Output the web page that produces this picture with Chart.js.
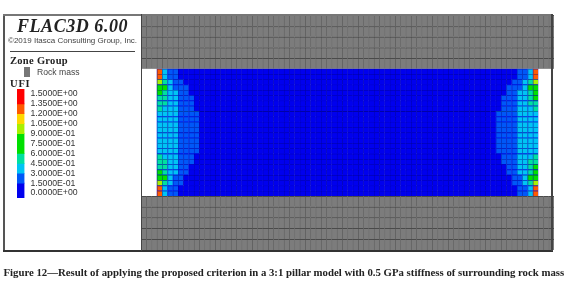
<!DOCTYPE html>
<html>
<head>
<meta charset="utf-8">
<script src="https://cdn.jsdelivr.net/npm/chart.js@4/dist/chart.umd.js"></script>
<style>
html,body{margin:0;padding:0;background:#fff;width:580px;height:282px;overflow:hidden}
#page{position:relative;width:580px;height:282px;filter:blur(.45px)}
.t{position:absolute;white-space:nowrap;color:#222;line-height:1}
.sans{font-family:"Liberation Sans",Arial,sans-serif}
.serif{font-family:"Liberation Serif","Times New Roman",serif}
.line{position:absolute}
canvas{position:absolute;display:block}
</style>
</head>
<body>
<div id="page">
  <canvas id="grid" style="left:141px;top:15px;width:413px;height:235px" width="413" height="235"></canvas>
  <canvas id="ramp" style="left:17px;top:89px;width:61px;height:109px" width="61" height="109"></canvas>

  <div class="line" style="left:3px;top:14px;width:2px;height:237px;background:#555"></div>
  <div class="line" style="left:3px;top:14px;width:550px;height:1.5px;background:#777"></div>
  <div class="line" style="left:3px;top:249.5px;width:550px;height:2px;background:#333"></div>
  <div class="line" style="left:140.5px;top:14px;width:1.5px;height:237px;background:#444"></div>
  <div class="line" style="left:551px;top:14px;width:2px;height:237px;background:#444"></div>
  <div class="line" style="left:10px;top:50.5px;width:125px;height:1px;background:#444"></div>
  <div class="line" style="left:24px;top:67px;width:6px;height:10px;background:#777"></div>

  <div class="t serif" style="left:17px;top:16.5px;font-size:18px;font-weight:bold;font-style:italic;letter-spacing:.55px">FLAC3D 6.00</div>
  <div class="t sans" style="left:8px;top:36.5px;font-size:8px;color:#444">©2019 Itasca Consulting Group, Inc.</div>
  <div class="t serif" style="left:10px;top:56px;font-size:10.5px;font-weight:bold;letter-spacing:.3px">Zone Group</div>
  <div class="t sans" style="left:37px;top:67.5px;font-size:8.6px;color:#444">Rock mass</div>
  <div class="t serif" style="left:10px;top:78.5px;font-size:10.5px;font-weight:bold;letter-spacing:.8px">UFI</div>
  <div class="t serif" style="left:3.5px;top:267px;font-size:10.78px;font-weight:bold;color:#222">Figure 12—Result of applying the proposed criterion in a 3:1 pillar model with 0.5 GPa stiffness of surrounding rock mass</div>
</div>
<script>
// UFI colour bands: lower bound, upper bound, fill, cell line
const bandLower = [1.35, 1.2, 1.05, 0.9, 0.6, 0.45, 0.3, 0.15, 0];
const bandUpper = [1.5, 1.35, 1.2, 1.05, 0.9, 0.6, 0.45, 0.3, 0.15];
const bandFill  = ['#ff0000','#ff5a00','#ffd800','#a8f000','#00e000','#00e0a0','#00c4f4','#0058f8','#0000ee'];
const bandLine  = ['#a00000','#b04000','#a89000','#70a000','#00a000','#00a070','#0088b0','#0040b0','#0000a8'];

// Legend ticks
const tickValues = [1.5,1.35,1.2,1.05,0.9,0.75,0.6,0.45,0.3,0.15,0];
const tickLabels = ['1.5000E+00','1.3500E+00','1.2000E+00','1.0500E+00','9.0000E-01','7.5000E-01','6.0000E-01','4.5000E-01','3.0000E-01','1.5000E-01','0.0000E+00'];

// UFI of the outermost zones of each pillar row, top row first, outer side first
const leftEdgeUFI = [
 [1.27,.37,.22,.22,.07,.07,.07,.07,.07],
 [1.27,.42,.22,.22,.07,.07,.07,.07,.07],
 [.97,.55,.37,.22,.22,.07,.07,.07,.07],
 [.75,.62,.37,.22,.22,.22,.07,.07,.07],
 [.72,.55,.37,.37,.22,.22,.07,.07,.07],
 [.55,.52,.37,.37,.22,.22,.22,.07,.07],
 [.52,.46,.37,.37,.22,.22,.22,.07,.07],
 [.46,.37,.37,.37,.22,.22,.22,.07,.07],
 [.37,.37,.37,.37,.22,.22,.22,.22,.07],
 [.37,.37,.37,.37,.22,.22,.22,.22,.07],
 [.37,.37,.37,.37,.22,.22,.22,.22,.07],
 [.37,.37,.37,.37,.22,.22,.22,.22,.07],
 [.37,.37,.37,.37,.22,.22,.22,.22,.07],
 [.37,.37,.37,.37,.22,.22,.22,.22,.07],
 [.37,.37,.37,.37,.22,.22,.22,.22,.07],
 [.37,.37,.37,.37,.22,.22,.22,.22,.07],
 [.52,.37,.37,.37,.22,.22,.22,.07,.07],
 [.52,.46,.37,.37,.22,.22,.22,.07,.07],
 [.55,.52,.37,.37,.22,.22,.07,.07,.07],
 [.62,.55,.37,.37,.22,.22,.07,.07,.07],
 [.75,.62,.37,.22,.22,.07,.07,.07,.07],
 [.97,.52,.37,.22,.22,.07,.07,.07,.07],
 [1.27,.42,.22,.22,.07,.07,.07,.07,.07],
 [1.27,.37,.22,.22,.07,.07,.07,.07,.07]
];
const rightEdgeUFI = [
 [1.27,.37,.22,.22,.07,.07,.07,.07,.07],
 [1.27,.42,.22,.22,.07,.07,.07,.07,.07],
 [.97,.55,.37,.22,.22,.07,.07,.07,.07],
 [.75,.62,.37,.22,.22,.22,.07,.07,.07],
 [.72,.55,.37,.37,.22,.22,.07,.07,.07],
 [.62,.52,.37,.37,.22,.22,.22,.07,.07],
 [.52,.46,.37,.37,.22,.22,.22,.07,.07],
 [.5,.37,.37,.37,.22,.22,.22,.07,.07],
 [.37,.37,.37,.37,.22,.22,.22,.22,.07],
 [.37,.37,.37,.37,.22,.22,.22,.22,.07],
 [.37,.37,.37,.37,.22,.22,.22,.22,.07],
 [.37,.37,.37,.37,.22,.22,.22,.22,.07],
 [.37,.37,.37,.37,.22,.22,.22,.22,.07],
 [.37,.37,.37,.37,.22,.22,.22,.22,.07],
 [.37,.37,.37,.37,.22,.22,.22,.22,.07],
 [.37,.37,.37,.37,.22,.22,.22,.22,.07],
 [.52,.37,.37,.37,.22,.22,.22,.07,.07],
 [.55,.46,.37,.37,.22,.22,.22,.07,.07],
 [.62,.52,.37,.37,.22,.22,.07,.07,.07],
 [.7,.55,.37,.37,.22,.22,.07,.07,.07],
 [.75,.62,.37,.22,.22,.07,.07,.07,.07],
 [.97,.52,.37,.22,.22,.07,.07,.07,.07],
 [1.27,.42,.22,.22,.07,.07,.07,.07,.07],
 [1.27,.37,.22,.22,.07,.07,.07,.07,.07]
];
// Every zone between the two edge bands reads as the lowest band
const interiorUFI = 0.07;
const pillarColumns = 72;
const sideGapColumns = 3;

// Horizontal zone boundaries of the rock mass, in pillar-row units from the pillar base
const rockAboveEdges = [24, 26, 28, 30, 32, 34.1];
const rockBelowEdges = [-10.15, -8.1, -6, -4, -2, 0];
const rockFill = '#7c7c7c';
const rockLine = '#4a4a4a';

const totalColumns = pillarColumns + 2 * sideGapColumns;
const columnLabels = Array.from({length: totalColumns}, (_, i) => 'C' + (i + 1));
const bandOf = v => { const i = bandLower.findIndex(l => v >= l); return i < 0 ? bandLower.length - 1 : i; };
const inPillar = c => c >= sideGapColumns && c < totalColumns - sideGapColumns;

function pillarRowValues(r) {
  const vals = [];
  for (let c = 0; c < pillarColumns; c++) {
    const fromRight = pillarColumns - 1 - c;
    if (c < leftEdgeUFI[r].length) vals.push(leftEdgeUFI[r][c]);
    else if (fromRight < rightEdgeUFI[r].length) vals.push(rightEdgeUFI[r][fromRight]);
    else vals.push(interiorUFI);
  }
  return vals;
}

const datasets = [];
const rowCount = leftEdgeUFI.length;
for (let r = 0; r < rowCount; r++) {
  const vals = pillarRowValues(r);
  const lo = rowCount - 1 - r, hi = rowCount - r;
  const data = [], fill = [], line = [];
  for (let c = 0; c < totalColumns; c++) {
    const v = vals[c - sideGapColumns];
    if (v === undefined) { data.push(null); fill.push('#fff'); line.push('#fff'); continue; }
    data.push([lo, hi]);
    fill.push(bandFill[bandOf(v)]);
    line.push(bandLine[bandOf(v)]);
  }
  datasets.push({label: 'Row ' + (r + 1), data, backgroundColor: fill, borderColor: line,
    borderWidth: {left: .8, top: .8, right: 0, bottom: 0}, borderSkipped: false, barPercentage: 1.04});
}
function addRock(edges) {
  for (let i = 0; i + 1 < edges.length; i++) {
    datasets.push({label: 'Rock mass', data: columnLabels.map(() => [edges[i], edges[i + 1]]),
      backgroundColor: rockFill, borderColor: rockLine,
      borderWidth: {left: .7, top: 1, right: 0, bottom: 0}, borderSkipped: false, barPercentage: 1.04});
  }
}
addRock(rockAboveEdges);
addRock(rockBelowEdges);
// Backing slabs drawn last in the list (so underneath) to close hairline seams between zones
datasets.push({label: 'Pillar base', data: columnLabels.map((_, c) => inPillar(c) ? [0, rowCount] : null),
  backgroundColor: bandFill[bandFill.length - 1], barPercentage: 1.04});
datasets.push({label: 'Rock base', data: columnLabels.map(() => [rockBelowEdges[0], 0]), backgroundColor: rockFill, barPercentage: 1.04});
datasets.push({label: 'Rock base', data: columnLabels.map(() => [rowCount, rockAboveEdges[rockAboveEdges.length - 1]]), backgroundColor: rockFill, barPercentage: 1.04});

new Chart(document.getElementById('grid'), {
  type: 'bar',
  data: {labels: columnLabels, datasets},
  options: {
    responsive: false, animation: false, devicePixelRatio: 1,
    layout: {padding: 0},
    plugins: {legend: {display: false}, tooltip: {enabled: false}, title: {display: false}},
    datasets: {bar: {grouped: false, categoryPercentage: 1}},
    scales: {
      x: {display: false},
      y: {display: false, min: rockBelowEdges[0], max: rockAboveEdges[rockAboveEdges.length - 1]}
    }
  }
});

new Chart(document.getElementById('ramp'), {
  type: 'bar',
  data: {
    labels: ['UFI'],
    datasets: bandLower.map((l, i) => ({
      label: tickLabels[i],
      data: [[i === bandLower.length - 1 ? -0.075 : l, i === 0 ? 1.575 : bandUpper[i]]],
      backgroundColor: bandFill[i]
    }))
  },
  options: {
    responsive: false, animation: false, devicePixelRatio: 1,
    layout: {padding: 0},
    plugins: {legend: {display: false}, tooltip: {enabled: false}, title: {display: false}},
    datasets: {bar: {grouped: false, categoryPercentage: 1, barPercentage: 1}},
    scales: {
      x: {display: false},
      y: {
        position: 'right', min: -0.075, max: 1.575,
        grid: {display: false, drawTicks: false}, border: {display: false},
        afterBuildTicks: s => { s.ticks = tickValues.map(v => ({value: v})); },
        afterFit: s => { s.width = 53.5; s.paddingTop = 0; s.paddingBottom = 0; },
        ticks: {
          autoSkip: false, padding: 6, color: '#333',
          font: {family: '"Liberation Sans",Arial,sans-serif', size: 8.7},
          callback: v => tickLabels[tickValues.findIndex(t => Math.abs(t - v) < 1e-6)]
        }
      }
    }
  }
});
</script>
</body>
</html>
